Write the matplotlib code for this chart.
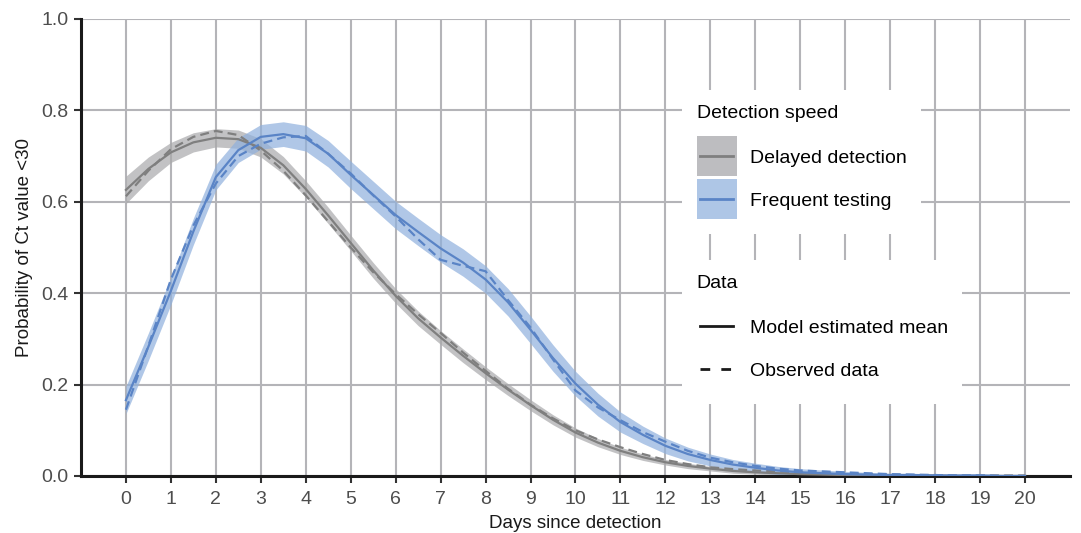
import numpy as np
import matplotlib.pyplot as plt
from matplotlib.patches import Rectangle
from matplotlib.lines import Line2D

plt.rcParams['font.family'] = ['Liberation Sans', 'DejaVu Sans']

### data (half-day steps)
days = np.arange(0, 20.5, 0.5)

delayed_mean = [0.626, 0.672, 0.708, 0.730, 0.740, 0.737, 0.718, 0.680, 0.628, 0.570,
                0.510, 0.450, 0.394, 0.345, 0.303, 0.263, 0.225, 0.189, 0.155, 0.123,
                0.095, 0.073, 0.055, 0.041, 0.030, 0.022, 0.016, 0.011, 0.008, 0.006,
                0.004, 0.003, 0.002, 0.002, 0.001, 0.001, 0.001, 0.000, 0.000, 0.000, 0.000]
delayed_obs = [0.612, 0.668, 0.715, 0.742, 0.755, 0.746, 0.712, 0.668, 0.614, 0.557,
               0.500, 0.446, 0.398, 0.354, 0.313, 0.270, 0.230, 0.191, 0.156, 0.126,
               0.100, 0.080, 0.063, 0.048, 0.035, 0.026, 0.019, 0.015, 0.012, 0.010,
               0.008, 0.006, 0.005, 0.004, 0.003, 0.002, 0.002, 0.001, 0.001, 0.001, 0.001]
delayed_ci = [0.030, 0.026, 0.022, 0.021, 0.020, 0.020, 0.020, 0.019, 0.018, 0.018,
              0.017, 0.017, 0.016, 0.016, 0.015, 0.015, 0.014, 0.013, 0.012, 0.011,
              0.010, 0.009, 0.008, 0.007, 0.006, 0.006, 0.005, 0.005, 0.004, 0.004,
              0.004, 0.003, 0.003, 0.003, 0.002, 0.002, 0.002, 0.002, 0.002, 0.002, 0.002]

frequent_mean = [0.166, 0.283, 0.405, 0.535, 0.654, 0.713, 0.742, 0.748, 0.739, 0.705,
                 0.659, 0.615, 0.571, 0.534, 0.498, 0.467, 0.430, 0.380, 0.320, 0.258,
                 0.202, 0.156, 0.118, 0.090, 0.066, 0.048, 0.035, 0.025, 0.018, 0.012,
                 0.008, 0.006, 0.004, 0.003, 0.002, 0.002, 0.001, 0.001, 0.001, 0.000, 0.000]
frequent_obs = [0.145, 0.285, 0.430, 0.548, 0.640, 0.700, 0.727, 0.741, 0.744, 0.705,
                0.662, 0.614, 0.568, 0.518, 0.473, 0.460, 0.448, 0.385, 0.325, 0.255,
                0.187, 0.150, 0.122, 0.096, 0.075, 0.055, 0.040, 0.030, 0.022, 0.016,
                0.012, 0.010, 0.008, 0.006, 0.004, 0.003, 0.002, 0.001, 0.001, 0.000, 0.000]
frequent_ci = [0.030, 0.030, 0.030, 0.029, 0.028, 0.027, 0.027, 0.027, 0.028, 0.029,
               0.030, 0.030, 0.030, 0.030, 0.030, 0.030, 0.030, 0.030, 0.030, 0.029,
               0.027, 0.025, 0.022, 0.019, 0.017, 0.015, 0.013, 0.011, 0.010, 0.009,
               0.008, 0.007, 0.006, 0.005, 0.004, 0.004, 0.003, 0.003, 0.003, 0.003, 0.003]

grey_line = '#7f7f7f'
grey_band = '#a9a9ab'
blue_line = '#5a84c6'
blue_band = '#8fb0dd'
dash = (0, (4, 2.3))


class BoxLine(object):
    """legend key: optional square box with a line through its middle"""
    def __init__(self, face=None, dashes=None):
        self.face = face
        self.dashes = dashes

    def legend_artist(self, legend, orig_handle, fontsize, handlebox):
        w = handlebox.width
        yc = 0.36 * fontsize
        if self.face is not None:
            h = 2.06 * fontsize
            rect = Rectangle((0, yc - h / 2), w, h, facecolor=self.face, edgecolor='none',
                             transform=handlebox.get_transform())
            handlebox.add_artist(rect)
        ls = self.dashes if self.dashes is not None else '-'
        line = Line2D([0.08 * w, 0.92 * w], [yc, yc], color=orig_handle.get_color(),
                      lw=orig_handle.get_linewidth(), ls=ls,
                      transform=handlebox.get_transform())
        handlebox.add_artist(line)
        return line


fig = plt.figure(figsize=(10.81, 5.33), dpi=100)
ax = fig.add_axes([0.0749, 0.107, 0.9149, 0.8574])

### ribbons, means and observed
for mean, obs, ci, lc, bc in [(delayed_mean, delayed_obs, delayed_ci, grey_line, grey_band),
                              (frequent_mean, frequent_obs, frequent_ci, blue_line, blue_band)]:
    mean = np.array(mean)
    ci = np.array(ci)
    ax.fill_between(days, mean - ci, mean + ci, color=bc, alpha=0.7, lw=0, zorder=2)
    ax.plot(days, mean, color=lc, lw=1.6, zorder=3, solid_joinstyle='round')
    ax.plot(days, obs, color=lc, lw=1.6, ls=dash, zorder=3)

### axes
ax.set_xlim(-1, 21)
ax.set_ylim(0, 1)
ax.set_xticks(range(0, 21))
ax.set_yticks([0, 0.2, 0.4, 0.6, 0.8, 1.0])
ax.set_yticklabels(['0.0', '0.2', '0.4', '0.6', '0.8', '1.0'])
ax.grid(True, color='#b4b4b8', lw=1.5, zorder=0)
ax.set_axisbelow(True)
for s in ['top', 'right']:
    ax.spines[s].set_visible(False)
for s in ['left', 'bottom']:
    ax.spines[s].set_linewidth(2.2)
    ax.spines[s].set_color('#1a1a1a')
ax.tick_params(axis='both', labelsize=14, labelcolor='#4d4d4d', color='#333333',
               length=5, width=1.5, pad=4)
ax.tick_params(axis='x', pad=6)
ax.set_xlabel('Days since detection', fontsize=13.5, color='#1a1a1a', labelpad=5)
ax.set_ylabel('Probability of Ct value <30', fontsize=13.5, color='#1a1a1a', labelpad=6)

### legends
leg_kw = dict(loc='upper left', fontsize=14, title_fontsize=14, alignment='left',
              frameon=True, fancybox=False, edgecolor='none', facecolor='white',
              framealpha=1, handlelength=2.06, handleheight=2.79, labelspacing=0.15,
              handletextpad=0.67, borderpad=0.75, borderaxespad=0)
k_del = Line2D([], [], color=grey_line, lw=2)
k_freq = Line2D([], [], color=blue_line, lw=2)
leg1 = ax.legend([k_del, k_freq], ['Delayed detection', 'Frequent testing'],
                 title='Detection speed', bbox_to_anchor=(0.6077, 0.8446),
                 handler_map={k_del: BoxLine('#bdbdc0'), k_freq: BoxLine('#aec6e6')}, **leg_kw)
leg1._legend_box.sep = 11
ax.add_artist(leg1)
k_mod = Line2D([], [], color='#1a1a1a', lw=2)
k_obs = Line2D([], [], color='#1a1a1a', lw=2)
leg2 = ax.legend([k_mod, k_obs], ['Model estimated mean', 'Observed data'], title='Data',
                 bbox_to_anchor=(0.6077, 0.4726),
                 handler_map={k_mod: BoxLine(), k_obs: BoxLine(dashes=(0, (3.5, 4)))}, **leg_kw)
leg2._legend_box.sep = 11

fig.savefig('out.png', dpi=100)
